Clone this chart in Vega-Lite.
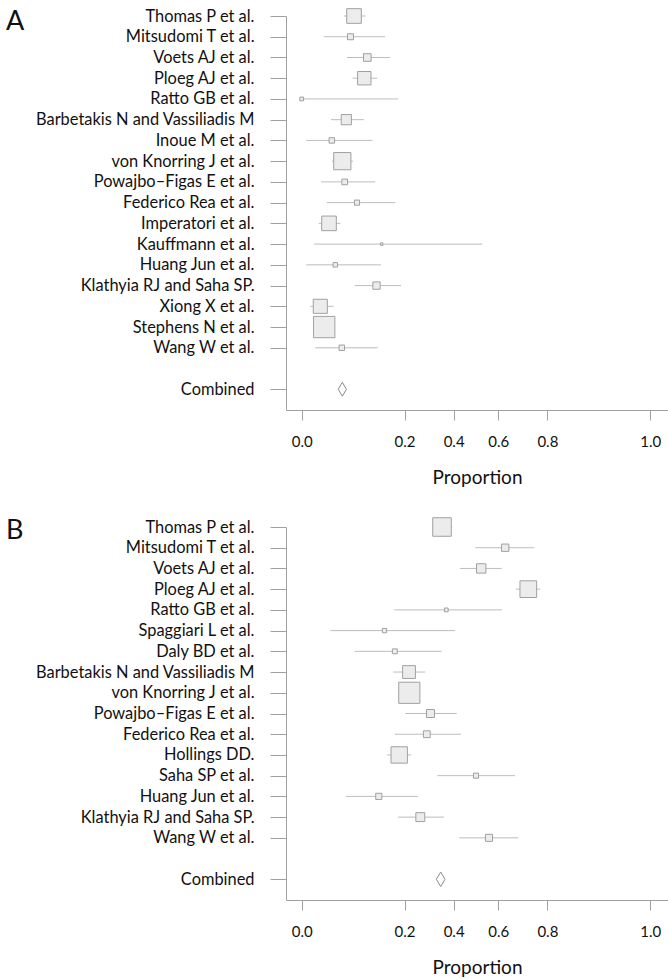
{
  "$schema": "https://vega.github.io/schema/vega-lite/v6.json",
  "padding": {"left": 5, "top": 6, "right": 0, "bottom": 0},
  "background": "white",
  "spacing": 28,
  "config": {
    "view": {"stroke": null},
    "font": "Lato",
    "axis": {
      "domainColor": "#a0a0a0",
      "tickColor": "#a0a0a0",
      "labelColor": "#111111",
      "titleColor": "#111111",
      "labelFont": "Lato",
      "titleFont": "Lato",
      "grid": false
    }
  },
  "resolve": {"scale": {"x": "independent", "y": "independent", "size": "independent"}},
  "vconcat": [
    {
      "title": {"text": "A", "anchor": "start", "frame": "bounds", "fontSize": 27, "fontWeight": "normal", "font": "Lato", "color": "#111111", "baseline": "top", "offset": -25, "dx": -29, "dy": 4},
      "width": 382,
      "height": 394,
      "data": {"values": [
        {"study": "Thomas P et al.", "kind": "study", "est": 0.2357, "lo": 0.1906, "hi": 0.2866, "weight": 10.7},
        {"study": "Mitsudomi T et al.", "kind": "study", "est": 0.2199, "lo": 0.0991, "hi": 0.3754, "weight": 1.8},
        {"study": "Voets AJ et al.", "kind": "study", "est": 0.2956, "lo": 0.2041, "hi": 0.3993, "weight": 2.9},
        {"study": "Ploeg AJ et al.", "kind": "study", "est": 0.2821, "lo": 0.2298, "hi": 0.3407, "weight": 9.0},
        {"study": "Ratto GB et al.", "kind": "study", "est": 0.0, "lo": 0.0, "hi": 0.4340, "weight": 0.7},
        {"study": "Barbetakis N and Vassiliadis M", "kind": "study", "est": 0.2010, "lo": 0.1320, "hi": 0.2808, "weight": 5.2},
        {"study": "Inoue M et al.", "kind": "study", "est": 0.1356, "lo": 0.0207, "hi": 0.3182, "weight": 1.5},
        {"study": "von Knorring J et al.", "kind": "study", "est": 0.1830, "lo": 0.1365, "hi": 0.2312, "weight": 14.8},
        {"study": "Powajbo–Figas E et al.", "kind": "study", "est": 0.1938, "lo": 0.0870, "hi": 0.3317, "weight": 1.6},
        {"study": "Federico Rea et al.", "kind": "study", "est": 0.2492, "lo": 0.1127, "hi": 0.4218, "weight": 1.3},
        {"study": "Imperatori et al.", "kind": "study", "est": 0.1230, "lo": 0.0766, "hi": 0.1740, "weight": 10.7},
        {"study": "Kauffmann et al.", "kind": "study", "est": 0.3605, "lo": 0.0554, "hi": 0.8139, "weight": 0.3},
        {"study": "Huang Jun et al.", "kind": "study", "est": 0.1514, "lo": 0.0207, "hi": 0.3574, "weight": 1.0},
        {"study": "Klathyia RJ and Saha SP.", "kind": "study", "est": 0.3371, "lo": 0.2388, "hi": 0.4475, "weight": 2.7},
        {"study": "Xiong X et al.", "kind": "study", "est": 0.0838, "lo": 0.0388, "hi": 0.1442, "weight": 9.9},
        {"study": "Stephens N et al.", "kind": "study", "est": 0.1014, "lo": 0.0700, "hi": 0.1350, "weight": 22.8},
        {"study": "Wang W et al.", "kind": "study", "est": 0.1807, "lo": 0.0613, "hi": 0.3425, "weight": 1.5},
        {"study": "Combined", "kind": "combined", "est": 0.1830, "lo": 0.1649, "hi": 0.2010}
      ]},
      "encoding": {
        "y": {
          "field": "study", "type": "nominal",
          "scale": {"type": "point", "padding": 0.5, "align": 0, "domain": ["Thomas P et al.", "Mitsudomi T et al.", "Voets AJ et al.", "Ploeg AJ et al.", "Ratto GB et al.", "Barbetakis N and Vassiliadis M", "Inoue M et al.", "von Knorring J et al.", "Powajbo–Figas E et al.", "Federico Rea et al.", "Imperatori et al.", "Kauffmann et al.", "Huang Jun et al.", "Klathyia RJ and Saha SP.", "Xiong X et al.", "Stephens N et al.", "Wang W et al.", " ", "Combined"]},
          "axis": {"title": null, "values": ["Thomas P et al.", "Mitsudomi T et al.", "Voets AJ et al.", "Ploeg AJ et al.", "Ratto GB et al.", "Barbetakis N and Vassiliadis M", "Inoue M et al.", "von Knorring J et al.", "Powajbo–Figas E et al.", "Federico Rea et al.", "Imperatori et al.", "Kauffmann et al.", "Huang Jun et al.", "Klathyia RJ and Saha SP.", "Xiong X et al.", "Stephens N et al.", "Wang W et al.", "Combined"], "tickSize": 16, "labelPadding": 16, "labelFontSize": 16.4, "labelLimit": 400}
        }
      },
      "layer": [
        {
          "transform": [{"filter": "datum.kind == 'study'"}],
          "mark": {"type": "rule", "color": "#bdbdbd", "strokeWidth": 1},
          "encoding": {
            "x": {"field": "lo", "type": "quantitative",
              "scale": {"domain": [-0.0708, 1.6508], "nice": false, "zero": false},
              "axis": {"title": "Proportion", "values": [0, 0.32175, 0.46365, 0.57964, 0.68472, 0.7854, 0.88608, 0.99116, 1.10715, 1.24905, 1.5708], "labelExpr": "round(pow(sin(datum.value),2)*10) % 2 == 0 ? format(pow(sin(datum.value),2), '.1f') : ''", "tickSize": 10, "labelPadding": 14, "labelFontSize": 15, "labelFlush": false, "labelOverlap": false, "titleFontSize": 19, "titleFontWeight": "normal", "titlePadding": 19}},
            "x2": {"field": "hi"}
          }
        },
        {
          "transform": [{"filter": "datum.kind == 'study'"}],
          "mark": {"type": "point", "shape": "square", "filled": true, "fill": "#ececec", "stroke": "#a0a0a0", "strokeWidth": 1, "opacity": 1},
          "encoding": {
            "x": {"field": "est", "type": "quantitative"},
            "size": {"field": "weight", "type": "quantitative", "scale": {"domain": [0, 100], "range": [0, 2000], "zero": true}, "legend": null}
          }
        },
        {
          "transform": [{"filter": "datum.kind == 'combined'"}],
          "mark": {"type": "point", "shape": "M0,-1L0.58,0L0,1L-0.58,0Z", "filled": true, "fill": "white", "stroke": "#8a8a8a", "strokeWidth": 1, "size": 196, "opacity": 1},
          "encoding": {"x": {"field": "est", "type": "quantitative"}}
        }
      ]
    },
    {
      "title": {"text": "B", "anchor": "start", "frame": "bounds", "fontSize": 27, "fontWeight": "normal", "font": "Lato", "color": "#111111", "baseline": "top", "offset": -25, "dx": -29, "dy": 4},
      "width": 382,
      "height": 373,
      "data": {"values": [
        {"study": "Thomas P et al.", "kind": "study", "est": 0.6323, "lo": 0.5865, "hi": 0.6787, "weight": 17.2},
        {"study": "Mitsudomi T et al.", "kind": "study", "est": 0.9171, "lo": 0.7823, "hi": 1.0482, "weight": 2.7},
        {"study": "Voets AJ et al.", "kind": "study", "est": 0.8089, "lo": 0.7134, "hi": 0.9013, "weight": 4.4},
        {"study": "Ploeg AJ et al.", "kind": "study", "est": 1.0212, "lo": 0.9657, "hi": 1.0753, "weight": 13.9},
        {"study": "Ratto GB et al.", "kind": "study", "est": 0.6516, "lo": 0.4173, "hi": 0.9027, "weight": 0.7},
        {"study": "Spaggiari L et al.", "kind": "study", "est": 0.3731, "lo": 0.1289, "hi": 0.6909, "weight": 0.9},
        {"study": "Daly BD et al.", "kind": "study", "est": 0.4196, "lo": 0.2388, "hi": 0.6309, "weight": 1.2},
        {"study": "Barbetakis N and Vassiliadis M", "kind": "study", "est": 0.4836, "lo": 0.4128, "hi": 0.5570, "weight": 8.2},
        {"study": "von Knorring J et al.", "kind": "study", "est": 0.4849, "lo": 0.4385, "hi": 0.5331, "weight": 22.4},
        {"study": "Powajbo–Figas E et al.", "kind": "study", "est": 0.5804, "lo": 0.4669, "hi": 0.6985, "weight": 3.2},
        {"study": "Federico Rea et al.", "kind": "study", "est": 0.5638, "lo": 0.4191, "hi": 0.7179, "weight": 2.3},
        {"study": "Hollings DD.", "kind": "study", "est": 0.4394, "lo": 0.3844, "hi": 0.4926, "weight": 13.4},
        {"study": "Saha SP et al.", "kind": "study", "est": 0.7855, "lo": 0.6111, "hi": 0.9612, "weight": 1.3},
        {"study": "Huang Jun et al.", "kind": "study", "est": 0.3475, "lo": 0.1983, "hi": 0.5241, "weight": 1.9},
        {"study": "Klathyia RJ and Saha SP.", "kind": "study", "est": 0.5345, "lo": 0.4340, "hi": 0.6413, "weight": 4.0},
        {"study": "Wang W et al.", "kind": "study", "est": 0.8441, "lo": 0.7102, "hi": 0.9761, "weight": 2.5},
        {"study": "Combined", "kind": "combined", "est": 0.6264, "lo": 0.6066, "hi": 0.6458}
      ]},
      "encoding": {
        "y": {
          "field": "study", "type": "nominal",
          "scale": {"type": "point", "padding": 0.5, "align": 0, "domain": ["Thomas P et al.", "Mitsudomi T et al.", "Voets AJ et al.", "Ploeg AJ et al.", "Ratto GB et al.", "Spaggiari L et al.", "Daly BD et al.", "Barbetakis N and Vassiliadis M", "von Knorring J et al.", "Powajbo–Figas E et al.", "Federico Rea et al.", "Hollings DD.", "Saha SP et al.", "Huang Jun et al.", "Klathyia RJ and Saha SP.", "Wang W et al.", " ", "Combined"]},
          "axis": {"title": null, "values": ["Thomas P et al.", "Mitsudomi T et al.", "Voets AJ et al.", "Ploeg AJ et al.", "Ratto GB et al.", "Spaggiari L et al.", "Daly BD et al.", "Barbetakis N and Vassiliadis M", "von Knorring J et al.", "Powajbo–Figas E et al.", "Federico Rea et al.", "Hollings DD.", "Saha SP et al.", "Huang Jun et al.", "Klathyia RJ and Saha SP.", "Wang W et al.", "Combined"], "tickSize": 16, "labelPadding": 16, "labelFontSize": 16.4, "labelLimit": 400}
        }
      },
      "layer": [
        {
          "transform": [{"filter": "datum.kind == 'study'"}],
          "mark": {"type": "rule", "color": "#bdbdbd", "strokeWidth": 1},
          "encoding": {
            "x": {"field": "lo", "type": "quantitative",
              "scale": {"domain": [-0.0708, 1.6508], "nice": false, "zero": false},
              "axis": {"title": "Proportion", "values": [0, 0.32175, 0.46365, 0.57964, 0.68472, 0.7854, 0.88608, 0.99116, 1.10715, 1.24905, 1.5708], "labelExpr": "round(pow(sin(datum.value),2)*10) % 2 == 0 ? format(pow(sin(datum.value),2), '.1f') : ''", "tickSize": 10, "labelPadding": 14, "labelFontSize": 15, "labelFlush": false, "labelOverlap": false, "titleFontSize": 19, "titleFontWeight": "normal", "titlePadding": 19}},
            "x2": {"field": "hi"}
          }
        },
        {
          "transform": [{"filter": "datum.kind == 'study'"}],
          "mark": {"type": "point", "shape": "square", "filled": true, "fill": "#ececec", "stroke": "#a0a0a0", "strokeWidth": 1, "opacity": 1},
          "encoding": {
            "x": {"field": "est", "type": "quantitative"},
            "size": {"field": "weight", "type": "quantitative", "scale": {"domain": [0, 100], "range": [0, 2000], "zero": true}, "legend": null}
          }
        },
        {
          "transform": [{"filter": "datum.kind == 'combined'"}],
          "mark": {"type": "point", "shape": "M0,-1L0.6,0L0,1L-0.6,0Z", "filled": true, "fill": "white", "stroke": "#8a8a8a", "strokeWidth": 1, "size": 210, "opacity": 1},
          "encoding": {"x": {"field": "est", "type": "quantitative"}}
        }
      ]
    }
  ]
}
